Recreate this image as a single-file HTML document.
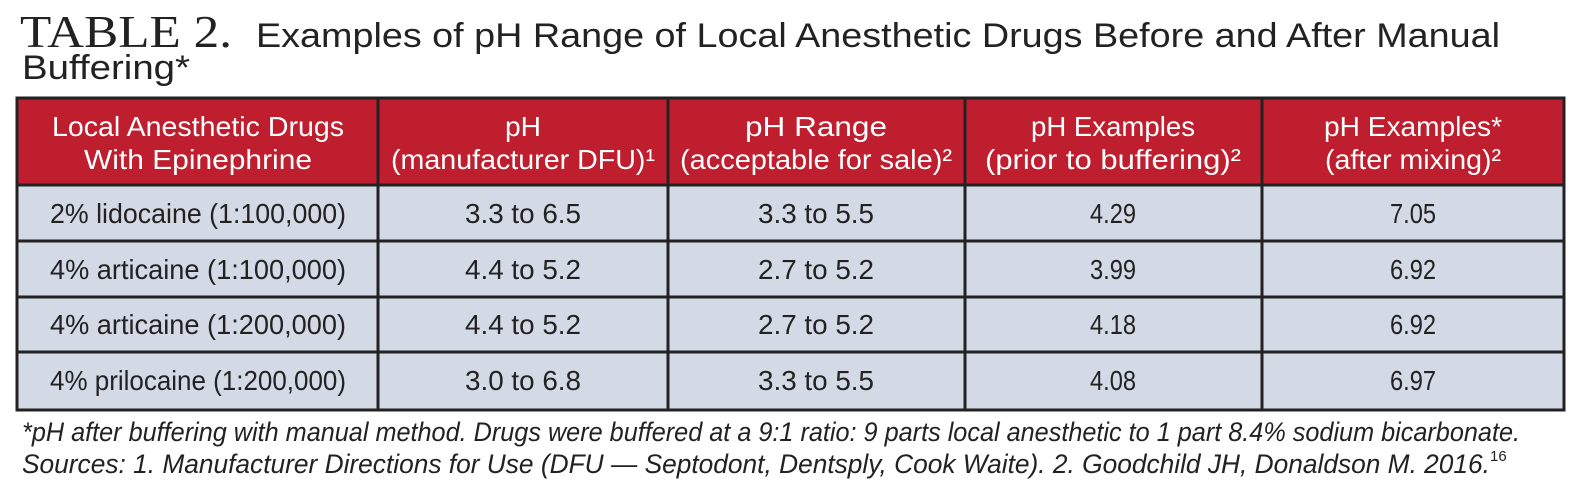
<!DOCTYPE html>
<html><head><meta charset="utf-8"><style>
html,body{margin:0;padding:0;background:#fff;}
svg{display:block;}
text{font-family:"Liberation Sans",sans-serif;}
</style></head><body>
<svg width="1586" height="492" viewBox="0 0 1586 492" xmlns="http://www.w3.org/2000/svg">
<text x="20" y="47" font-family="Liberation Serif" style="font-family:'Liberation Serif',serif" font-size="46" fill="#222" textLength="212" lengthAdjust="spacingAndGlyphs">TABLE 2.</text>
<text x="256" y="47" font-size="34" fill="#222" textLength="1244" lengthAdjust="spacingAndGlyphs">Examples of pH Range of Local Anesthetic Drugs Before and After Manual</text>
<text x="22" y="79" font-size="34" fill="#222" textLength="168" lengthAdjust="spacingAndGlyphs">Buffering*</text>

<rect x="17" y="97" width="1547" height="88" fill="#be1e2d"/>
<rect x="17" y="185" width="1547" height="225" fill="#d3d9e5"/>
<g stroke="#222" stroke-width="3" fill="none">
<rect x="17" y="98" width="1547" height="312"/>
<line x1="17" y1="185" x2="1564" y2="185"/>
<line x1="17" y1="241" x2="1564" y2="241"/>
<line x1="17" y1="297" x2="1564" y2="297"/>
<line x1="17" y1="352" x2="1564" y2="352"/>
<line x1="378" y1="98" x2="378" y2="410"/>
<line x1="668" y1="98" x2="668" y2="410"/>
<line x1="965" y1="98" x2="965" y2="410"/>
<line x1="1262" y1="98" x2="1262" y2="410"/>
</g>
<g fill="#fff" font-size="28" text-anchor="middle">
<text x="198" y="136" textLength="292" lengthAdjust="spacingAndGlyphs">Local Anesthetic Drugs</text>
<text x="198" y="169" textLength="228" lengthAdjust="spacingAndGlyphs">With Epinephrine</text>
<text x="523" y="136" textLength="36" lengthAdjust="spacingAndGlyphs">pH</text>
<text x="523" y="169" textLength="264" lengthAdjust="spacingAndGlyphs">(manufacturer DFU)¹</text>
<text x="816" y="136" textLength="142" lengthAdjust="spacingAndGlyphs">pH Range</text>
<text x="816" y="169" textLength="272" lengthAdjust="spacingAndGlyphs">(acceptable for sale)²</text>
<text x="1113" y="136" textLength="164" lengthAdjust="spacingAndGlyphs">pH Examples</text>
<text x="1113" y="169" textLength="256" lengthAdjust="spacingAndGlyphs">(prior to buffering)²</text>
<text x="1413" y="136" textLength="178" lengthAdjust="spacingAndGlyphs">pH Examples*</text>
<text x="1413" y="169" textLength="176" lengthAdjust="spacingAndGlyphs">(after mixing)²</text>
</g>
<g fill="#222" font-size="28" text-anchor="middle">
<text x="198" y="223" textLength="296" lengthAdjust="spacingAndGlyphs">2% lidocaine (1:100,000)</text>
<text x="523" y="223" textLength="116" lengthAdjust="spacingAndGlyphs">3.3 to 6.5</text>
<text x="816" y="223" textLength="116" lengthAdjust="spacingAndGlyphs">3.3 to 5.5</text>
<text x="1113" y="223" textLength="46" lengthAdjust="spacingAndGlyphs">4.29</text>
<text x="1413" y="223" textLength="46" lengthAdjust="spacingAndGlyphs">7.05</text>
<text x="198" y="279" textLength="296" lengthAdjust="spacingAndGlyphs">4% articaine (1:100,000)</text>
<text x="523" y="279" textLength="116" lengthAdjust="spacingAndGlyphs">4.4 to 5.2</text>
<text x="816" y="279" textLength="116" lengthAdjust="spacingAndGlyphs">2.7 to 5.2</text>
<text x="1113" y="279" textLength="46" lengthAdjust="spacingAndGlyphs">3.99</text>
<text x="1413" y="279" textLength="46" lengthAdjust="spacingAndGlyphs">6.92</text>
<text x="198" y="334" textLength="296" lengthAdjust="spacingAndGlyphs">4% articaine (1:200,000)</text>
<text x="523" y="334" textLength="116" lengthAdjust="spacingAndGlyphs">4.4 to 5.2</text>
<text x="816" y="334" textLength="116" lengthAdjust="spacingAndGlyphs">2.7 to 5.2</text>
<text x="1113" y="334" textLength="46" lengthAdjust="spacingAndGlyphs">4.18</text>
<text x="1413" y="334" textLength="46" lengthAdjust="spacingAndGlyphs">6.92</text>
<text x="198" y="390" textLength="296" lengthAdjust="spacingAndGlyphs">4% prilocaine (1:200,000)</text>
<text x="523" y="390" textLength="116" lengthAdjust="spacingAndGlyphs">3.0 to 6.8</text>
<text x="816" y="390" textLength="116" lengthAdjust="spacingAndGlyphs">3.3 to 5.5</text>
<text x="1113" y="390" textLength="46" lengthAdjust="spacingAndGlyphs">4.08</text>
<text x="1413" y="390" textLength="46" lengthAdjust="spacingAndGlyphs">6.97</text>
</g>
<g fill="#222" font-size="27" font-style="italic">
<text x="22" y="441" textLength="1498" lengthAdjust="spacingAndGlyphs">*pH after buffering with manual method. Drugs were buffered at a 9:1 ratio: 9 parts local anesthetic to 1 part 8.4% sodium bicarbonate.</text>
<text x="22" y="473" textLength="1468" lengthAdjust="spacingAndGlyphs">Sources: 1. Manufacturer Directions for Use (DFU — Septodont, Dentsply, Cook Waite). 2. Goodchild JH, Donaldson M. 2016.</text>
<text x="1490" y="461" font-size="15" font-style="normal">16</text>
</g>
</svg>
</body></html>
